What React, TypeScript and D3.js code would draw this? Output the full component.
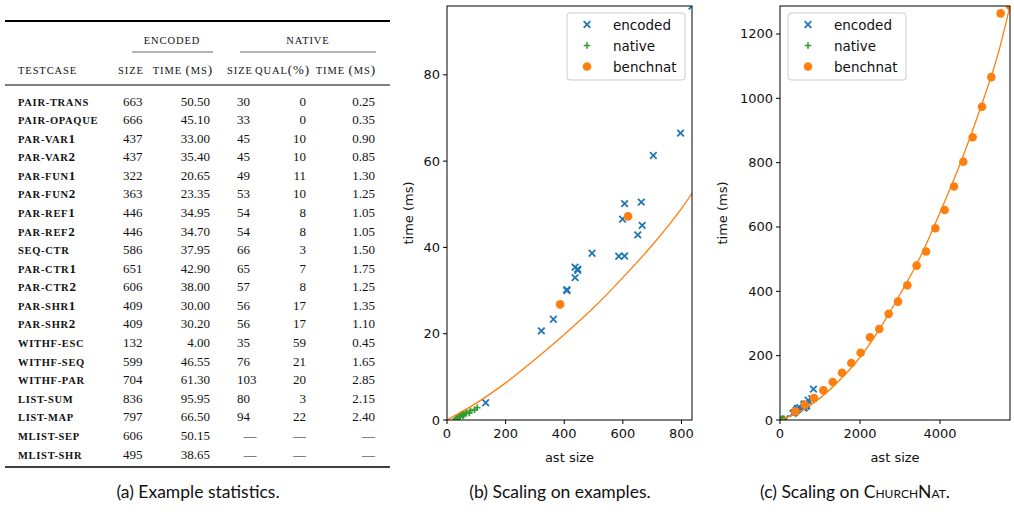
import React from 'react';
import * as d3 from 'd3';

// table data (a)
const testcases = ['pair-trans', 'pair-opaque', 'par-var1', 'par-var2', 'par-fun1', 'par-fun2', 'par-ref1', 'par-ref2', 'seq-ctr', 'par-ctr1', 'par-ctr2', 'par-shr1', 'par-shr2', 'withf-esc', 'withf-seq', 'withf-par', 'list-sum', 'list-map', 'mlist-sep', 'mlist-shr'];
const encSize = [663, 666, 437, 437, 322, 363, 446, 446, 586, 651, 606, 409, 409, 132, 599, 704, 836, 797, 606, 495];
const encTime = [50.5, 45.1, 33.0, 35.4, 20.65, 23.35, 34.95, 34.7, 37.95, 42.9, 38.0, 30.0, 30.2, 4.0, 46.55, 61.3, 95.95, 66.5, 50.15, 38.65];
const natSize = [30, 33, 45, 45, 49, 53, 54, 54, 66, 65, 57, 56, 56, 35, 76, 103, 80, 94, null, null];
const natQual = [0, 0, 10, 10, 11, 10, 8, 8, 3, 7, 8, 17, 17, 59, 21, 20, 3, 22, null, null];
const natTime = [0.25, 0.35, 0.9, 0.85, 1.3, 1.25, 1.05, 1.05, 1.5, 1.75, 1.25, 1.35, 1.1, 0.45, 1.65, 2.85, 2.15, 2.4, null, null];

// churchnat benchmark points
const benchSize = [386, 618, 852, 1085, 1318, 1550, 1783, 2016, 2250, 2483, 2716, 2950, 3183, 3416, 3650, 3883, 4116, 4350, 4583, 4816, 5050, 5283, 5516, 5750];
const benchTime = [26.8, 47.2, 68, 92, 118, 147, 177, 209, 257, 283, 330, 368, 419, 480, 524, 596, 653, 726, 803, 879, 974, 1066, 1264, 1287];

// fitted curve
const fitMidX = [0, 100, 200, 300, 400, 500, 600, 700, 800, 836];
const fitMidY = [0, 3.9, 8.6, 14, 19.8, 26, 33, 40.5, 49, 52.5];
const fitBigX = [0, 500, 1000, 1500, 2000, 2500, 3000, 3500, 4000, 4500, 5000, 5500, 5750];
const fitBigY = [0, 26, 68, 125, 195, 285, 390, 505, 645, 795, 965, 1160, 1287];

const midXTicks = [0, 200, 400, 600, 800];
const midYTicks = [0, 20, 40, 60, 80];
const bigXTicks = [0, 2000, 4000];
const bigYTicks = [0, 200, 400, 600, 800, 1000, 1200];

const BLUE = '#1f77b4';
const GREEN = '#2ca02c';
const ORANGE = '#ff7f0e';
const SANS = 'DejaVu Sans, sans-serif';
const SERIF = 'Liberation Serif, serif';

const fmt2 = d3.format('.2f');

// fake small caps: letters upper-cased at a smaller size, digits and symbols full size
const SmallCaps = ({ text, size, big }: { text: string; size: number; big: number }) => {
  const parts = text.match(/[a-z\- ]+|[^a-z\- ]+/g) || [];
  return (
    <>
      {parts.map((p, i) =>
        /[a-z]/.test(p)
          ? <tspan key={i} style={{ fontSize: size }}>{p.toUpperCase()}</tspan>
          : <tspan key={i} style={{ fontSize: big }}>{p}</tspan>
      )}
    </>
  );
};

const Table = () => {
  const rowY = d3.scalePoint<string>().domain(testcases).range([101, 454]);
  const cellStyle = { fontFamily: SERIF, fontSize: 13, fill: '#111' };
  const head = { fontFamily: SERIF, fill: '#111', letterSpacing: 0.9 } as any;
  const name = { fontFamily: SERIF, fill: '#111', letterSpacing: 0.7, fontWeight: 600 } as any;
  return (
    <g>
      <line x1={5} x2={390} y1={21} y2={21} stroke="#000" strokeWidth={2} />
      <text x={172} y={44} textAnchor="middle" style={head}><SmallCaps text="encoded" size={10.5} big={13} /></text>
      <text x={308} y={44} textAnchor="middle" style={head}><SmallCaps text="native" size={10.5} big={13} /></text>
      <line x1={132} x2={213} y1={52} y2={52} stroke="#666" strokeWidth={1} />
      <line x1={240} x2={376} y1={52} y2={52} stroke="#666" strokeWidth={1} />
      <text x={18} y={74} style={head}><SmallCaps text="testcase" size={10.5} big={13} /></text>
      <text x={118} y={74} style={head}><SmallCaps text="size" size={10.5} big={13} /></text>
      <text x={213} y={74} textAnchor="end" style={head}><SmallCaps text="time (ms)" size={10.5} big={13} /></text>
      <text x={227} y={74} style={head}><SmallCaps text="size" size={10.5} big={13} /></text>
      <text x={310} y={74} textAnchor="end" style={head}><SmallCaps text="qual(%)" size={10.5} big={13} /></text>
      <text x={376} y={74} textAnchor="end" style={head}><SmallCaps text="time (ms)" size={10.5} big={13} /></text>
      <line x1={5} x2={390} y1={85} y2={85} stroke="#000" strokeWidth={1} />
      {testcases.map((t, i) => {
        const y = (rowY(t) as number) + 4.5;
        return (
          <g key={t}>
            <text x={18} y={y} style={name}><SmallCaps text={t} size={10.5} big={13} /></text>
            <text x={123} y={y} style={cellStyle}>{encSize[i]}</text>
            <text x={210} y={y} textAnchor="end" style={cellStyle}>{fmt2(encTime[i])}</text>
            <text x={natSize[i] == null ? 250 : 237} y={y} textAnchor={natSize[i] == null ? 'middle' : 'start'} style={cellStyle}>{natSize[i] == null ? '—' : natSize[i]}</text>
            <text x={306} y={y} textAnchor="end" style={cellStyle}>{natQual[i] == null ? '—' : natQual[i]}</text>
            <text x={375} y={y} textAnchor="end" style={cellStyle}>{natTime[i] == null ? '—' : fmt2(natTime[i] as number)}</text>
          </g>
        );
      })}
      <line x1={5} x2={390} y1={467} y2={467} stroke="#000" strokeWidth={1.6} />
    </g>
  );
};

const XMark = ({ x, y }: { x: number; y: number }) => (
  <path d={`M${x - 3.3},${y - 3.3}L${x + 3.3},${y + 3.3}M${x - 3.3},${y + 3.3}L${x + 3.3},${y - 3.3}`} stroke={BLUE} strokeWidth={1.8} fill="none" />
);
const PlusMark = ({ x, y }: { x: number; y: number }) => (
  <path d={`M${x - 3.3},${y}L${x + 3.3},${y}M${x},${y - 3.3}L${x},${y + 3.3}`} stroke={GREEN} strokeWidth={1.6} fill="none" />
);

const Legend = ({ x, y }: { x: number; y: number }) => {
  const items = ['encoded', 'native', 'benchnat'];
  return (
    <g>
      <rect x={x} y={y} width={118} height={67} rx={3} fill="#fff" fillOpacity={0.8} stroke="#ccc" strokeWidth={1} />
      {items.map((label, i) => {
        const cy = y + 11.5 + i * 21;
        const mx = x + 20;
        return (
          <g key={label}>
            {i === 0 && <XMark x={mx} y={cy} />}
            {i === 1 && <PlusMark x={mx} y={cy} />}
            {i === 2 && <circle cx={mx} cy={cy} r={4.3} fill={ORANGE} />}
            <text x={x + 46} y={cy + 5} style={{ fontFamily: SANS, fontSize: 13.5, fill: '#111' }}>{label}</text>
          </g>
        );
      })}
    </g>
  );
};

type PlotProps = {
  id: string;
  left: number; right: number;
  xMax: number; yMax: number;
  xTicks: number[]; yTicks: number[];
  fitX: number[]; fitY: number[];
  legendX: number;
};

const Scatter = ({ id, left, right, xMax, yMax, xTicks, yTicks, fitX, fitY, legendX }: PlotProps) => {
  const top = 6, bottom = 420;
  const x = d3.scaleLinear().domain([0, xMax]).range([left, right]);
  const y = d3.scaleLinear().domain([0, yMax]).range([bottom, top]);
  const line = d3.line<number>().x((d) => x(d)).y((_, i) => y(fitY[i])).curve(d3.curveMonotoneX);
  const tickStyle = { fontFamily: SANS, fontSize: 13, fill: '#111' };
  const nat = natSize.map((s, i) => [s, natTime[i]]).filter((p) => p[0] != null) as number[][];
  return (
    <g>
      <defs>
        <clipPath id={id}>
          <rect x={left} y={top} width={right - left} height={bottom - top} />
        </clipPath>
      </defs>
      <g clipPath={`url(#${id})`}>
        {encSize.map((s, i) => <XMark key={'e' + i} x={x(s)} y={y(encTime[i])} />)}
        {nat.map((p, i) => <PlusMark key={'n' + i} x={x(p[0])} y={y(p[1])} />)}
        {benchSize.map((s, i) => <circle key={'b' + i} cx={x(s)} cy={y(benchTime[i])} r={4.3} fill={ORANGE} />)}
        <path d={line(fitX) || ''} fill="none" stroke={ORANGE} strokeWidth={1.3} />
      </g>
      <rect x={left} y={top} width={right - left} height={bottom - top} fill="none" stroke="#000" strokeWidth={1} />
      {xTicks.map((t) => (
        <g key={'x' + t}>
          <line x1={x(t)} x2={x(t)} y1={bottom} y2={bottom + 4} stroke="#000" />
          <text x={x(t)} y={bottom + 18} textAnchor="middle" style={tickStyle}>{t}</text>
        </g>
      ))}
      {yTicks.map((t) => (
        <g key={'y' + t}>
          <line x1={left - 4} x2={left} y1={y(t)} y2={y(t)} stroke="#000" />
          <text x={left - 7} y={y(t) + 4.5} textAnchor="end" style={tickStyle}>{t}</text>
        </g>
      ))}
      <text x={(left + right) / 2} y={462} textAnchor="middle" style={tickStyle}>ast size</text>
      <Legend x={legendX} y={13} />
    </g>
  );
};

export default function App() {
  const capStyle = { fontFamily: 'Lato, sans-serif', fontSize: 17.5, fill: '#111' };
  return (
    <svg width={1014} height={516} style={{ position: 'absolute', left: 0, top: 0, background: '#fff' }}>
      <rect width={1014} height={516} fill="#fff" />
      <Table />
      <Scatter id="clipB" left={447} right={692} xMax={836} yMax={95.95} xTicks={midXTicks} yTicks={midYTicks} fitX={fitMidX} fitY={fitMidY} legendX={567} />
      <text transform="translate(413,213) rotate(-90)" textAnchor="middle" style={{ fontFamily: SANS, fontSize: 13, fill: '#111' }}>time (ms)</text>
      <Scatter id="clipC" left={780} right={1010} xMax={5750} yMax={1287} xTicks={bigXTicks} yTicks={bigYTicks} fitX={fitBigX} fitY={fitBigY} legendX={788} />
      <text transform="translate(727,213) rotate(-90)" textAnchor="middle" style={{ fontFamily: SANS, fontSize: 13, fill: '#111' }}>time (ms)</text>
      <text x={198} y={498} textAnchor="middle" style={capStyle}>(a) Example statistics.</text>
      <text x={560} y={498} textAnchor="middle" style={capStyle}>(b) Scaling on examples.</text>
      <text x={855} y={498} textAnchor="middle" style={capStyle}>(c) Scaling on <tspan style={{ fontVariant: 'small-caps' }}>ChurchNat</tspan>.</text>
    </svg>
  );
}
